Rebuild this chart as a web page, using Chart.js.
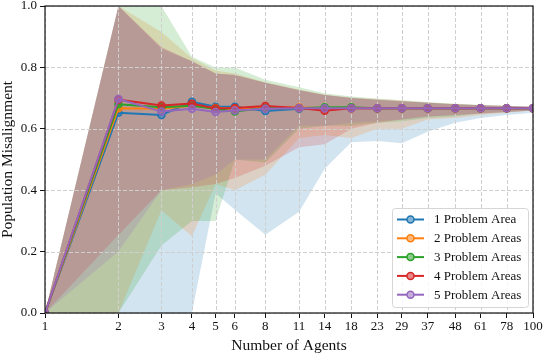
<!DOCTYPE html>
<html>
<head>
<meta charset="utf-8">
<script src="https://cdn.jsdelivr.net/npm/chart.js@4"></script>
<style>
  html, body { margin: 0; padding: 0; background: #fff; }
  #wrap { width: 544px; height: 356px; }
</style>
</head>
<body>
<div id="wrap"><canvas id="chart" width="544" height="356"></canvas></div>
<script>
// --- data ---
const agents = [1, 2, 3, 4, 5, 6, 8, 11, 14, 18, 23, 29, 37, 48, 61, 78, 100];
const yTicks = [0, 0.2, 0.4, 0.6, 0.8, 1.0];

const labels = ['1 Problem Area', '2 Problem Areas', '3 Problem Areas', '4 Problem Areas', '5 Problem Areas'];

const mean1 = [0, 0.652, 0.645, 0.688, 0.672, 0.672, 0.658, 0.665, 0.668, 0.667, 0.667, 0.667, 0.667, 0.667, 0.667, 0.667, 0.667];
const mean2 = [0, 0.667, 0.665, 0.675, 0.668, 0.665, 0.670, 0.669, 0.668, 0.667, 0.667, 0.667, 0.667, 0.667, 0.667, 0.667, 0.667];
const mean3 = [0, 0.680, 0.670, 0.675, 0.665, 0.656, 0.668, 0.667, 0.670, 0.670, 0.667, 0.667, 0.667, 0.667, 0.667, 0.667, 0.667];
const mean4 = [0, 0.695, 0.676, 0.682, 0.666, 0.668, 0.674, 0.668, 0.659, 0.667, 0.667, 0.667, 0.667, 0.667, 0.667, 0.667, 0.667];
const mean5 = [0, 0.697, 0.656, 0.665, 0.655, 0.660, 0.665, 0.667, 0.667, 0.667, 0.667, 0.667, 0.667, 0.667, 0.667, 0.667, 0.667];

const low1 = [0, -0.3, -0.1, 0.0, 0.39, 0.336, 0.255, 0.33, 0.47, 0.556, 0.56, 0.553, 0.59, 0.62, 0.635, 0.645, 0.652];
const low2 = [0, 0.0, 0.335, 0.25, 0.42, 0.40, 0.45, 0.57, 0.58, 0.57, 0.60, 0.60, 0.63, 0.635, 0.645, 0.652, 0.66];
const low3 = [0, 0.0, 0.22, 0.30, 0.30, 0.50, 0.49, 0.60, 0.61, 0.61, 0.62, 0.625, 0.635, 0.64, 0.65, 0.655, 0.66];
const low4 = [0, 0.254, 0.40, 0.41, 0.42, 0.44, 0.48, 0.54, 0.55, 0.60, 0.62, 0.63, 0.64, 0.645, 0.65, 0.655, 0.66];
const low5 = [0, 0.20, 0.40, 0.42, 0.45, 0.50, 0.50, 0.61, 0.61, 0.62, 0.625, 0.63, 0.64, 0.645, 0.65, 0.655, 0.66];

const high1 = [0, 1.0, 0.86, 0.82, 0.78, 0.775, 0.75, 0.725, 0.71, 0.70, 0.695, 0.69, 0.685, 0.68, 0.677, 0.674, 0.672];
const high2 = [0, 1.0, 0.915, 0.83, 0.79, 0.78, 0.752, 0.728, 0.712, 0.702, 0.697, 0.692, 0.686, 0.681, 0.677, 0.674, 0.672];
const high3 = [0, 1.0, 1.0, 0.835, 0.80, 0.80, 0.76, 0.735, 0.716, 0.705, 0.699, 0.693, 0.687, 0.682, 0.678, 0.675, 0.672];
const high4 = [0, 1.0, 0.866, 0.82, 0.78, 0.775, 0.75, 0.726, 0.71, 0.70, 0.695, 0.69, 0.685, 0.68, 0.677, 0.674, 0.672];
const high5 = [0, 1.0, 0.866, 0.82, 0.78, 0.775, 0.75, 0.726, 0.71, 0.70, 0.695, 0.69, 0.685, 0.68, 0.677, 0.674, 0.672];

const colors = [[31, 119, 180], [255, 127, 14], [44, 160, 44], [214, 39, 40], [148, 103, 189]];

const means = [mean1, mean2, mean3, mean4, mean5];
const lows = [low1, low2, low3, low4, low5];
const highs = [high1, high2, high3, high4, high5];

const FONT = "'Liberation Serif', 'Times New Roman', serif";
const rgba = (c, a) => `rgba(${c[0]}, ${c[1]}, ${c[2]}, ${a})`;
const pts = arr => agents.map((x, i) => ({ x: x, y: arr[i] }));

// --- datasets: band pairs first, then mean lines ---
// filler paints from highest order down, so blue band goes first like matplotlib
const datasets = [];
means.forEach((m, s) => {
    datasets.push({
        label: 'hi' + s, data: pts(highs[s]), pointRadius: 0, borderWidth: 0,
        fill: false, order: 20 - s
    });
    datasets.push({
        label: 'lo' + s, data: pts(lows[s]), pointRadius: 0, borderWidth: 0,
        fill: '-1', backgroundColor: rgba(colors[s], 0.2), order: 20 - s
    });
});
means.forEach((m, s) => {
    datasets.push({
        label: labels[s],
        data: pts(m),
        borderColor: rgba(colors[s], 1),
        backgroundColor: rgba(colors[s], 1),
        pointBackgroundColor: rgba(colors[s], 0.55),
        pointBorderColor: rgba(colors[s], 1),
        pointBorderWidth: 1.5,
        pointRadius: 3.5,
        borderWidth: 2,
        tension: 0,
        fill: false,
        order: 5 - s
    });
});

// grid drawn after the fills but under the lines
const gridPlugin = {
    id: 'gridUnder',
    beforeDatasetsDraw(chart) {
        const { ctx, chartArea: a, scales } = chart;
        ctx.save();
        ctx.strokeStyle = '#cfcfcf';
        ctx.lineWidth = 1;
        ctx.setLineDash([4, 2]);
        agents.forEach(v => {
            const px = Math.round(scales.x.getPixelForValue(v)) + 0.5;
            ctx.beginPath(); ctx.moveTo(px, a.top); ctx.lineTo(px, a.bottom); ctx.stroke();
        });
        yTicks.forEach(v => {
            const py = Math.round(scales.y.getPixelForValue(v)) + 0.5;
            ctx.beginPath(); ctx.moveTo(a.left, py); ctx.lineTo(a.right, py); ctx.stroke();
        });
        ctx.restore();
    },
    afterDraw(chart) {
        const { ctx, chartArea: a } = chart;
        ctx.save();
        // frame
        ctx.strokeStyle = '#111';
        ctx.lineWidth = 1.2;
        ctx.strokeRect(a.left, a.top, a.right - a.left, a.bottom - a.top);

        // legend inside lower right
        const w = 136, h = 99;
        const x0 = a.right - 5 - w, y0 = a.bottom - 6 - h;
        ctx.beginPath();
        ctx.roundRect(x0 + 0.5, y0 + 0.5, w, h, 3);
        ctx.fillStyle = 'rgba(255,255,255,0.8)';
        ctx.fill();
        ctx.strokeStyle = '#d6d6d6';
        ctx.lineWidth = 1;
        ctx.stroke();
        ctx.font = '13px ' + FONT;
        ctx.textBaseline = 'middle';
        labels.forEach((lab, s) => {
            const y = y0 + 11.5 + s * 18.8;
            ctx.strokeStyle = rgba(colors[s], 1);
            ctx.lineWidth = 2;
            ctx.beginPath(); ctx.moveTo(x0 + 5, y); ctx.lineTo(x0 + 32, y); ctx.stroke();
            ctx.beginPath(); ctx.arc(x0 + 18.5, y, 3.5, 0, Math.PI * 2);
            ctx.fillStyle = '#fff'; ctx.fill();
            ctx.fillStyle = rgba(colors[s], 0.55); ctx.fill();
            ctx.lineWidth = 1.5; ctx.stroke();
            ctx.fillStyle = '#111';
            ctx.fillText(lab, x0 + 42, y + 0.5);
        });
        ctx.restore();
    }
};

new Chart(document.getElementById('chart'), {
    type: 'line',
    data: { datasets: datasets },
    options: {
        responsive: false,
        animation: false,
        layout: { padding: { left: 0, right: 11, top: 6, bottom: 0 } },
        plugins: {
            legend: { display: false },
            tooltip: { enabled: false },
            filler: { drawTime: 'beforeDatasetsDraw' }
        },
        scales: {
            x: {
                type: 'logarithmic',
                min: 1, max: 100,
                afterBuildTicks: scale => { scale.ticks = agents.map(v => ({ value: v })); },
                afterFit: scale => {
                    scale.height = 43;
                    scale.paddingLeft = 0; scale.paddingRight = 0;
                },
                ticks: {
                    autoSkip: false, maxRotation: 0, padding: 1,
                    color: '#111',
                    font: { family: FONT, size: 13 },
                    callback: v => String(v)
                },
                grid: { drawOnChartArea: false, drawTicks: true, tickLength: 5, tickColor: '#111', tickWidth: 1 },
                border: { display: false },
                title: {
                    display: true, text: 'Number of Agents', color: '#111',
                    font: { family: FONT, size: 15.5 }, padding: { top: 0, bottom: 1 }
                }
            },
            y: {
                min: 0, max: 1,
                afterBuildTicks: scale => { scale.ticks = yTicks.map(v => ({ value: v })); },
                afterFit: scale => {
                    scale.width = 45;
                    scale.paddingTop = 0; scale.paddingBottom = 0;
                },
                ticks: {
                    padding: 3, color: '#111',
                    font: { family: FONT, size: 13 },
                    callback: v => v.toFixed(1)
                },
                grid: { drawOnChartArea: false, drawTicks: true, tickLength: 5, tickColor: '#111', tickWidth: 1 },
                border: { display: false },
                title: {
                    display: true, text: 'Population Misalignment', color: '#111',
                    font: { family: FONT, size: 15.5 }, padding: { top: -1, bottom: 0 }
                }
            }
        }
    },
    plugins: [gridPlugin]
});
</script>
</body>
</html>
